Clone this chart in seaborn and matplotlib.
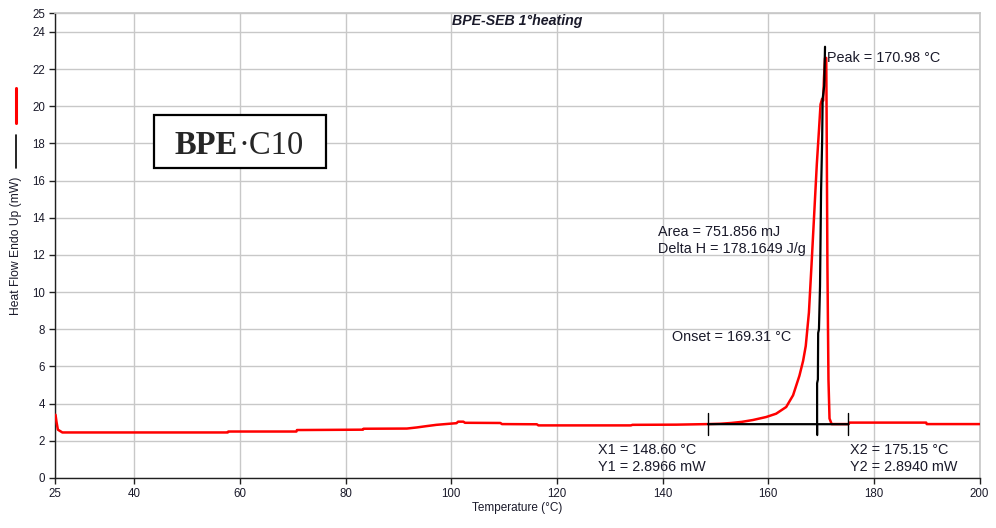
import numpy as np
import pandas as pd
import seaborn as sns
import matplotlib
matplotlib.use("Agg")
import matplotlib.pyplot as plt
from matplotlib.lines import Line2D
from matplotlib.patches import Rectangle

# DSC first heating scan of BPE-SEB: heat flow (mW) against temperature (°C)
temperature = [
    25.0, 25.1, 25.3, 25.55, 26.4, 57.7, 57.8, 70.7, 70.8, 83.3,
    83.4, 91.6, 93.5, 95.3, 97.2, 101.0, 101.3, 102.3, 102.6, 109.3,
    109.6, 116.2, 116.5, 134.0, 134.3, 142.6, 148.6, 151.0, 153.0, 155.0,
    157.1, 159.6, 161.5, 163.4, 164.7, 165.9, 166.6, 167.1, 167.7, 168.2,
    168.7, 169.2, 169.6, 169.9, 170.2, 170.4, 170.55, 170.75, 170.98, 171.05,
    171.2, 171.4, 171.6, 172.0, 175.2, 175.4, 189.9, 190.0, 200.0,
]
heat_flow = [
    3.4, 3.4, 3.0, 2.6, 2.45, 2.45, 2.5, 2.5, 2.58, 2.6,
    2.65, 2.66, 2.72, 2.79, 2.86, 2.95, 3.03, 3.03, 2.97, 2.96,
    2.9, 2.89, 2.83, 2.83, 2.86, 2.87, 2.9, 2.92, 2.96, 3.02,
    3.12, 3.28, 3.46, 3.82, 4.45, 5.5, 6.3, 7.1, 8.9, 11.5,
    14.2, 16.9, 18.7, 20.1, 20.4, 20.3, 21.5, 22.6, 22.6, 19.5,
    11.5, 5.3, 3.2, 2.9, 2.9, 2.98, 2.98, 2.9, 2.9,
]

# partial-area / peak construction line (black)
peak_line_t = [169.25, 169.25, 169.4, 169.45, 169.6, 169.8, 170.0, 170.2, 170.3, 170.6, 170.75]
peak_line_hf = [2.33, 5.1, 5.3, 7.8, 8.0, 10.3, 15.4, 18.1, 20.4, 21.1, 23.2]

# integration limits and results
x1, y1 = 148.60, 2.8966
x2, y2 = 175.15, 2.8940
onset = 169.31
peak_t = 170.98
area_mj = 751.856
delta_h = 178.1649

y_ticks = [0, 2, 4, 6, 8, 10, 12, 14, 16, 18, 20, 22, 24, 25]
x_ticks = [25, 40, 60, 80, 100, 120, 140, 160, 180, 200]

sns.set_theme(style="white")
plt.rcParams["font.family"] = ["Liberation Sans", "DejaVu Sans"]

fig = plt.figure(figsize=(9.96, 5.28), dpi=100)
ax = fig.add_axes([0.0552, 0.0947, 0.9283, 0.8801])

df = pd.DataFrame({"T": temperature, "HF": heat_flow})
sns.lineplot(data=df, x="T", y="HF", ax=ax, color="#ff0000", lw=1.8, sort=False,
             estimator=None, zorder=3)
pk = pd.DataFrame({"T": peak_line_t, "HF": peak_line_hf})
sns.lineplot(data=pk, x="T", y="HF", ax=ax, color="black", lw=1.6, sort=False,
             estimator=None, zorder=4)

# baseline between the integration limits with end/onset ticks
ax.plot([x1, x2], [y1, y2], color="black", lw=1.6, zorder=4)
ax.plot([x1, x1], [y1 - 0.57, y1 + 0.6], color="black", lw=1.0, zorder=4)
ax.plot([x2, x2], [y2 - 0.57, y2 + 0.6], color="black", lw=1.0, zorder=4)
ax.plot([onset, onset], [2.33, y1], color="black", lw=1.0, zorder=4)

ax.set_xlim(25, 200)
ax.set_ylim(0, 25)
ax.set_xticks(x_ticks)
ax.set_yticks(y_ticks)
ax.grid(True, color="#c8c8c8", lw=1.0)
ax.set_axisbelow(True)
for s in ["top", "right"]:
    ax.spines[s].set_color("#c8c8c8")
for s in ["left", "bottom"]:
    ax.spines[s].set_color("#202020")
    ax.spines[s].set_linewidth(1.0)
ax.tick_params(axis="both", which="both", direction="out", length=4, width=1,
               color="#202020", labelsize=8.3, labelcolor="#1a1a2a", pad=3,
               left=True, bottom=True)
ax.set_xlabel("Temperature (°C)", fontsize=8.5, color="#1a1a2a", labelpad=2)
ax.set_ylabel("")

fs = 10.4
tc = "#1a1a2a"
ax.text(peak_t + 0.2, 22.6, f"Peak = {peak_t:.2f} °C", fontsize=fs, color=tc,
        ha="left", va="center")
ax.text(139.2, 13.26, f"Area = {area_mj:.3f} mJ", fontsize=fs, color=tc,
        ha="left", va="center")
ax.text(139.2, 12.3, f"Delta H = {delta_h:.4f} J/g", fontsize=fs, color=tc,
        ha="left", va="center")
ax.text(141.7, 7.57, f"Onset = {onset:.2f} °C", fontsize=fs, color=tc,
        ha="left", va="center")
ax.text(127.7, 1.5, f"X1 = {x1:.2f} °C", fontsize=fs, color=tc, ha="left", va="center")
ax.text(127.7, 0.6, f"Y1 = {y1:.4f} mW", fontsize=fs, color=tc, ha="left", va="center")
ax.text(175.4, 1.5, f"X2 = {x2:.2f} °C", fontsize=fs, color=tc, ha="left", va="center")
ax.text(175.4, 0.6, f"Y2 = {y2:.4f} mW", fontsize=fs, color=tc, ha="left", va="center")

ax.text(0.5, 0.983, "BPE-SEB 1°heating", transform=ax.transAxes, fontsize=10.2,
        fontweight="bold", fontstyle="italic", ha="center", va="center", color=tc)

# sample label box
ax.add_patch(Rectangle((0.107, 0.667), 0.186, 0.114, transform=ax.transAxes,
                       fill=True, facecolor="white", edgecolor="black", lw=1.6, zorder=5))
ax.text(0.198, 0.697, "BPE", transform=ax.transAxes, fontsize=23.5, fontweight="bold",
        family="Liberation Serif", ha="right", va="baseline", zorder=6)
ax.text(0.198, 0.697, "·C10", transform=ax.transAxes, fontsize=23.5,
        family="Liberation Serif", ha="left", va="baseline", zorder=6)

# vertical title and series swatches on the left margin
fig.text(0.016, 0.534, "Heat Flow Endo Up (mW)", rotation=90, fontsize=8.7,
         color=tc, ha="center", va="center")
fig.add_artist(Line2D([0.016, 0.016], [1 - 88 / 528, 1 - 123 / 528], color="#ff0000", lw=2.2))
fig.add_artist(Line2D([0.016, 0.016], [1 - 135 / 528, 1 - 168 / 528], color="black", lw=1.2))

fig.savefig("out.png", dpi=100)
